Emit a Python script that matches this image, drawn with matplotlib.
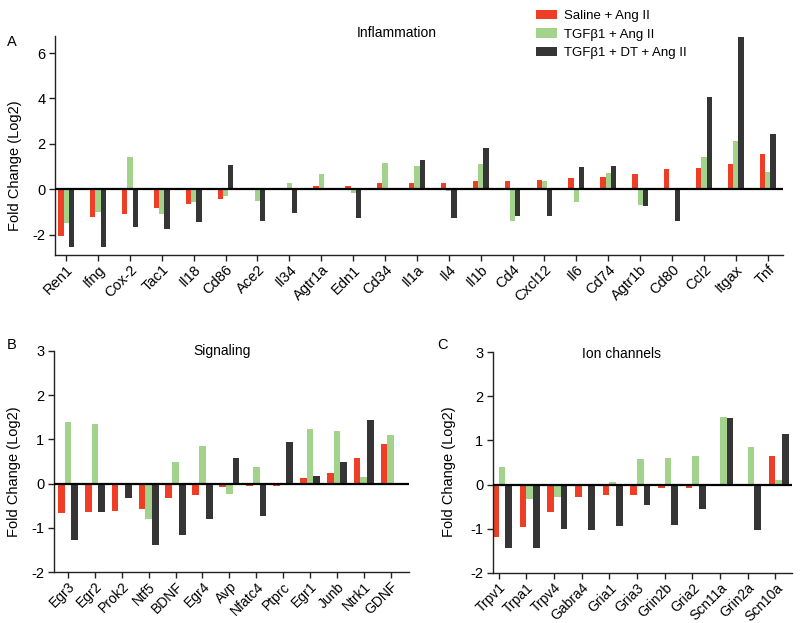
import numpy as np
import matplotlib
matplotlib.use("Agg")
import matplotlib.pyplot as plt
from matplotlib.patches import Patch

plt.rcParams['font.family'] = ['Liberation Sans', 'DejaVu Sans']
plt.rcParams['font.size'] = 10
plt.rcParams['axes.unicode_minus'] = False

# colours of the three groups
RED = '#EE3F26'
GREEN = '#A3D28C'
DARK = '#353535'
series_names = ['Saline + Ang II', 'TGFβ1 + Ang II', 'TGFβ1 + DT + Ang II']

# Panel A - inflammation
genes_a = ['Ren1', 'Ifng', 'Cox-2', 'Tac1', 'Il18', 'Cd86', 'Ace2', 'Il34', 'Agtr1a',
           'Edn1', 'Cd34', 'Il1a', 'Il4', 'Il1b', 'Cd4', 'Cxcl12', 'Il6', 'Cd74',
           'Agtr1b', 'Cd80', 'Ccl2', 'Itgax', 'Tnf']
saline_a = [-2.06, -1.24, -1.10, -0.84, -0.65, -0.44, 0.0, 0.0, 0.15,
            0.13, 0.26, 0.29, 0.29, 0.34, 0.37, 0.41, 0.51, 0.54,
            0.68, 0.88, 0.94, 1.10, 1.56]
tgf_a = [-1.47, -1.00, 1.44, -1.09, -0.56, -0.28, -0.50, 0.29, 0.68,
         -0.18, 1.15, 1.01, -0.07, 1.12, -1.41, 0.35, -0.57, 0.71,
         -0.69, 0.0, 1.44, 2.13, 0.76]
dt_a = [-2.53, -2.53, -1.65, -1.76, -1.44, 1.07, -1.40, -1.07, 0.02,
        -1.26, 0.0, 1.29, -1.28, 1.81, -1.18, -1.18, 0.97, 1.01,
        -0.74, -1.40, 4.06, 6.69, 2.44]

# Panel B - signaling
genes_b = ['Egr3', 'Egr2', 'Prok2', 'Ntf5', 'BDNF', 'Egr4', 'Avp', 'Nfatc4',
           'Ptprc', 'Egr1', 'Junb', 'Ntrk1', 'GDNF']
saline_b = [-0.66, -0.64, -0.63, -0.57, -0.32, -0.25, -0.08, -0.05,
            -0.05, 0.13, 0.23, 0.57, 0.90]
tgf_b = [1.39, 1.34, 0.0, -0.79, 0.49, 0.84, -0.24, 0.38,
         0.0, 1.23, 1.19, 0.16, 1.11]
dt_b = [-1.27, -0.64, -0.33, -1.40, -1.17, -0.79, 0.58, -0.73,
        0.95, 0.17, 0.48, 1.43, 0.0]

# Panel C - ion channels
genes_c = ['Trpv1', 'Trpa1', 'Trpv4', 'Gabra4', 'Gria1', 'Gria3', 'Grin2b',
           'Gria2', 'Scn11a', 'Grin2a', 'Scn10a']
saline_c = [-1.19, -0.96, -0.63, -0.29, -0.23, -0.23, -0.08, -0.08, -0.03, 0.02, 0.64]
tgf_c = [0.40, -0.32, -0.28, 0.0, 0.06, 0.59, 0.60, 0.64, 1.54, 0.86, 0.10]
dt_c = [-1.43, -1.43, -1.00, -1.03, -0.94, -0.47, -0.92, -0.56, 1.51, -1.02, 1.15]

W, H = 800, 623
fig = plt.figure(figsize=(W / 100, H / 100), dpi=100)


def px_axes(left, top, right, bottom):
    return fig.add_axes([left / W, 1 - bottom / H, (right - left) / W, (bottom - top) / H])


def draw_panel(ax, genes, vals, width, shift, xlim, ylim, yticks, xsize):
    x = np.arange(len(genes))
    for k, (v, c) in enumerate(zip(vals, [RED, GREEN, DARK])):
        ax.bar(x + (k - 1) * width + shift, v, width, color=c, linewidth=0, zorder=2)
    ax.axhline(0, color='black', lw=1.6, zorder=3)
    ax.set_xlim(*xlim)
    ax.set_ylim(*ylim)
    ax.set_yticks(yticks)
    ax.set_xticks(x)
    ax.set_xticklabels(genes, rotation=45, ha='right', va='top',
                       rotation_mode='anchor', fontsize=xsize)
    for s in ['top', 'right']:
        ax.spines[s].set_visible(False)
    for s in ['left', 'bottom']:
        ax.spines[s].set_color('#222222')
        ax.spines[s].set_linewidth(1.0)
    ax.tick_params(length=4, width=1, color='#222222', pad=3)
    ax.tick_params(axis='y', labelsize=10.5)
    ax.tick_params(axis='x', pad=1.5)


ax_a = px_axes(55, 36, 783, 255)
draw_panel(ax_a, genes_a, [saline_a, tgf_a, dt_a], 0.165, 0.0,
           (-0.35, 22.48), (-2.9, 6.75), [-2, 0, 2, 4, 6], 10.5)
ax_b = px_axes(54, 351, 409, 572)
draw_panel(ax_b, genes_b, [saline_b, tgf_b, dt_b], 0.25, 0.0,
           (-0.52, 12.68), (-2, 3), [-2, -1, 0, 1, 2, 3], 10)
ax_c = px_axes(493, 352, 792, 573)
draw_panel(ax_c, genes_c, [saline_c, tgf_c, dt_c], 0.24, 0.12,
           (-0.21, 10.6), (-2, 3), [-2, -1, 0, 1, 2, 3], 10)

# y labels placed as figure text
for xp, yp in [(15, 166), (14, 472), (449, 472)]:
    fig.text(xp / W, 1 - yp / H, 'Fold Change (Log2)', rotation=90,
             ha='center', va='center', fontsize=10.5)

fig.text(397 / W, 1 - 33 / H, 'Inflammation', ha='center', va='center', fontsize=10)
fig.text(222 / W, 1 - 351 / H, 'Signaling', ha='center', va='center', fontsize=10)
fig.text(622 / W, 1 - 354 / H, 'Ion channels', ha='center', va='center', fontsize=10)
fig.text(12 / W, 1 - 42 / H, 'A', ha='center', va='center', fontsize=10.5)
fig.text(12 / W, 1 - 345 / H, 'B', ha='center', va='center', fontsize=10.5)
fig.text(442 / W, 1 - 345 / H, 'C', ha='center', va='center', fontsize=10.5)

handles = [Patch(color=c, linewidth=0) for c in [RED, GREEN, DARK]]
fig.legend(handles, series_names, loc='upper left', bbox_to_anchor=(527 / W, 1 - 1 / H),
           frameon=False, fontsize=9.5, handlelength=1.6, handleheight=0.7,
           handletextpad=0.5, labelspacing=0.45, borderpad=0.2)

fig.savefig('out.png', dpi=100)
